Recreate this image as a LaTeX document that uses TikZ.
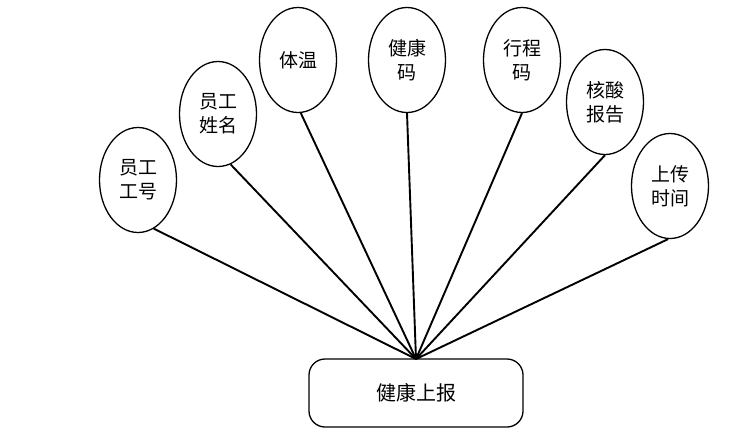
\documentclass[tikz,border=0pt]{standalone}
\usepackage{fontspec}
\newfontfamily\cjk{Noto Sans CJK SC}
\usetikzlibrary{shapes.geometric}
\begin{document}
\begin{tikzpicture}[x=1pt,y=-1pt,
  attr/.style={draw, line width=1.3pt, ellipse, minimum width=77pt, minimum height=105pt, inner sep=0pt, align=center, font=\cjk\fontsize{19}{24}\selectfont},
  ent/.style={draw, line width=1.3pt, rounded corners=16pt, minimum width=214pt, minimum height=68pt, inner sep=0pt, font=\cjk\fontsize{20}{24}\selectfont},
  conn/.style={line width=1.9pt}]
\useasboundingbox (0,0) rectangle (750,432);
\node[ent] (r) at (416,393) {健康上报};
\coordinate (p) at (416,359);
\node[attr] (a1) at (138,180) {员工\\工号};
\node[attr] (a2) at (218,114) {员工\\姓名};
\node[attr] (a3) at (298,60) {体温};
\node[attr] (a4) at (407,60) {健康\\码};
\node[attr] (a5) at (522,60) {行程\\码};
\node[attr] (a6) at (605,102) {核酸\\报告};
\node[attr] (a7) at (670,186) {上传\\时间};
\draw[conn] (a1.-72) -- (p);
\draw[conn] (a2.-76) -- (p);
\draw[conn] (a3.-87) -- (p);
\draw[conn] (a4.south) -- (p);
\draw[conn] (a5.south) -- (p);
\draw[conn] (a6.south) -- (p);
\draw[conn] (a7.-92) -- (p);
\end{tikzpicture}
\end{document}
